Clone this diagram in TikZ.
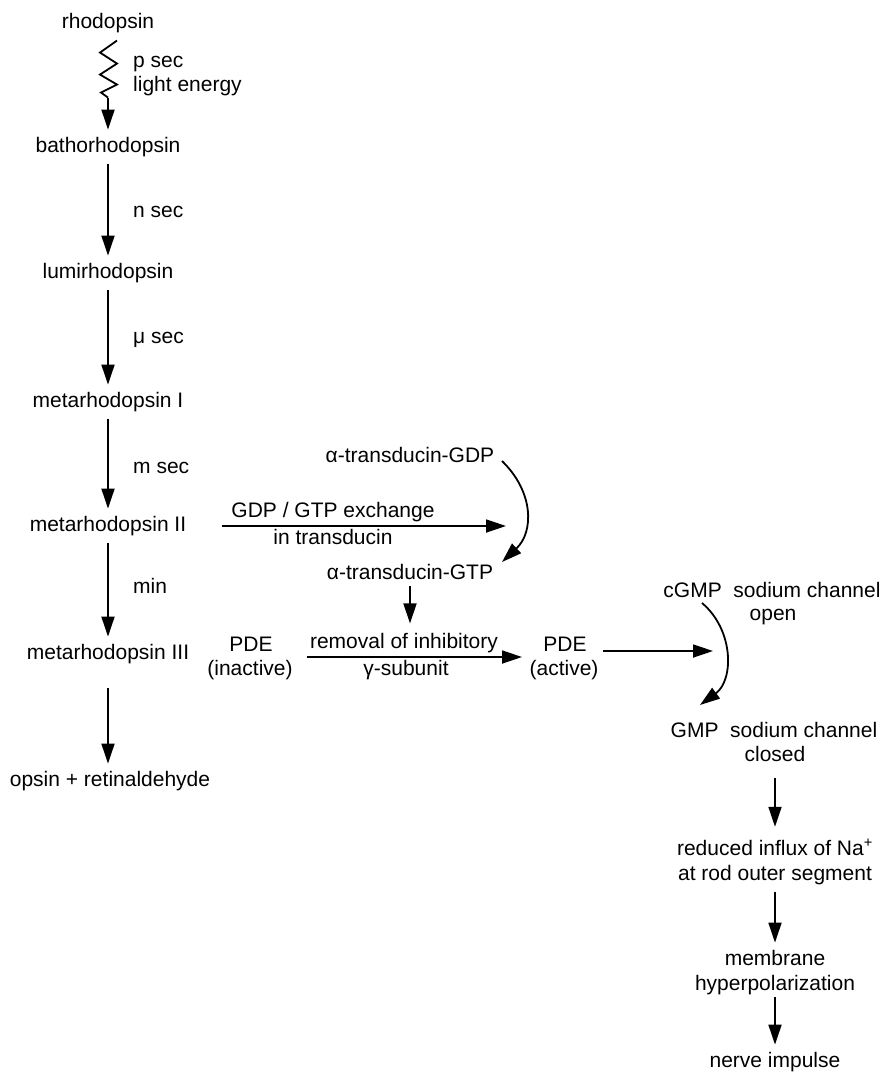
\documentclass[tikz,border=0pt]{standalone}
\usepackage{fontspec}
\setmainfont{Liberation Sans}
\usetikzlibrary{arrows.meta,calc}
\begin{document}
\begin{tikzpicture}[x=1pt,y=-1pt,
  every node/.style={font=\fontsize{21}{24}\selectfont},
  item/.style={inner xsep=2pt, inner ysep=7pt, anchor=base},
  lbl/.style={inner sep=0pt, anchor=base west},
  txt/.style={inner xsep=2pt, inner ysep=7pt, anchor=base},
  arr/.style={line width=1.8pt, -{Triangle[length=20pt,width=13pt]}},
  zz/.style={line width=1.8pt, line join=miter}
]
\useasboundingbox (0,0) rectangle (886,1072);

% main column
\node[item] (rho)   at (108,28)  {rhodopsin};
\node[item] (batho) at (108,152) {bathorhodopsin};
\node[item] (lumi)  at (108,278) {lumirhodopsin};
\node[item] (meta1) at (108,407) {metarhodopsin I};
\node[item] (meta2) at (108,531) {metarhodopsin II};
\node[item] (meta3) at (108,659) {metarhodopsin III};
\node[item] (opsin) at (110,786) {opsin + retinaldehyde};

% step labels
\node[lbl] (psec)  at (133,67)  {p sec};
\node[lbl] (light) at (133,91)  {light energy};
\node[lbl] (nsec)  at (133,217) {n sec};
\node[lbl] (usec)  at (133,343) {μ sec};
\node[lbl] (msec)  at (133,473) {m sec};
\node[lbl] (min)   at (133,593) {min};

% transducin
\node[txt] (gdp)  at (410,462) {α-transducin-GDP};
\node[txt] (gtp)  at (410,579) {α-transducin-GTP};
\node[txt] (exch) at (333,517) {GDP / GTP exchange};
\node[txt] (intr) at (333,544) {in transducin};

% PDE
\node[txt] (pdei)  at (251,651) {PDE};
\node[txt] (pdei2) at (250,675) {(inactive)};
\node[txt] (remov) at (404,648) {removal of inhibitory};
\node[txt] (gsub)  at (406,675) {γ-subunit};
\node[txt] (pdea)  at (565,651) {PDE};
\node[txt] (pdea2) at (564,675) {(active)};

% right column
\node[txt] (cgmp)  at (772,597) {cGMP\ \ sodium channel};
\node[txt] (open)  at (773,620) {open};
\node[txt] (gmp)   at (774,737) {GMP\ \ sodium channel};
\node[txt] (closed) at (775,761) {closed};
\node[txt] (red1)  at (775,855) {reduced influx of Na\textsuperscript{+}};
\node[txt] (red2)  at (775,880) {at rod outer segment};
\node[txt] (mem1)  at (775,965) {membrane};
\node[txt] (mem2)  at (775,990) {hyperpolarization};
\node[txt] (nerve) at (775,1067) {nerve impulse};

% zigzag
\draw[zz] ([xshift=9pt,yshift=-1pt]rho.south) -- ++(-17,12) -- ++(17,11) -- ++(-17,11)
  -- ++(17,10) -- ++(-16,8) -- ++(7,5) coordinate (zend);
\draw[arr] (zend) -- (batho.north);

% main arrows
\draw[arr] (batho.south) -- (lumi.north);
\draw[arr] (lumi.south) -- (meta1.north);
\draw[arr] (meta1.south) -- (meta2.north);
\draw[arr] (meta2.south) -- (meta3.north);
\draw[arr, shorten <=17pt] (meta3.south) -- (meta3.south |- opsin.north);

% exchange arrow
\coordinate (exA) at (222,526);
\coordinate (exB) at (506,526);
\draw[arr] (exA) -- (exB);

% GDP -> GTP curve
\coordinate (gA) at (502,461);
\coordinate (gB) at (502,562);
\draw[arr] (gA) .. controls (534,492) and (534,532) .. (gB);

% GTP -> removal
\draw[arr] (gtp.south) -- ++(0,37) coordinate (gtpend);

% removal arrow
\coordinate (rA) at (307,657);
\coordinate (rB) at (522,657);
\draw[arr] (rA) -- (rB);

% PDE active -> cGMP curve
\coordinate (pA) at (603,651);
\coordinate (pB) at (713,651);
\draw[arr] (pA) -- (pB);

\coordinate (cA) at (702,603);
\coordinate (cB) at (700,705);
\draw[arr] (cA) .. controls (734,630) and (734,680) .. (cB);

% right column arrows
\draw[arr, shorten <=10pt, shorten >=5pt] (closed.south) -- (red1.north);
\draw[arr] (red2.south) -- (mem1.north);
\draw[arr, shorten <=-5pt] (mem2.south) -- (nerve.north);
\end{tikzpicture}
\end{document}
